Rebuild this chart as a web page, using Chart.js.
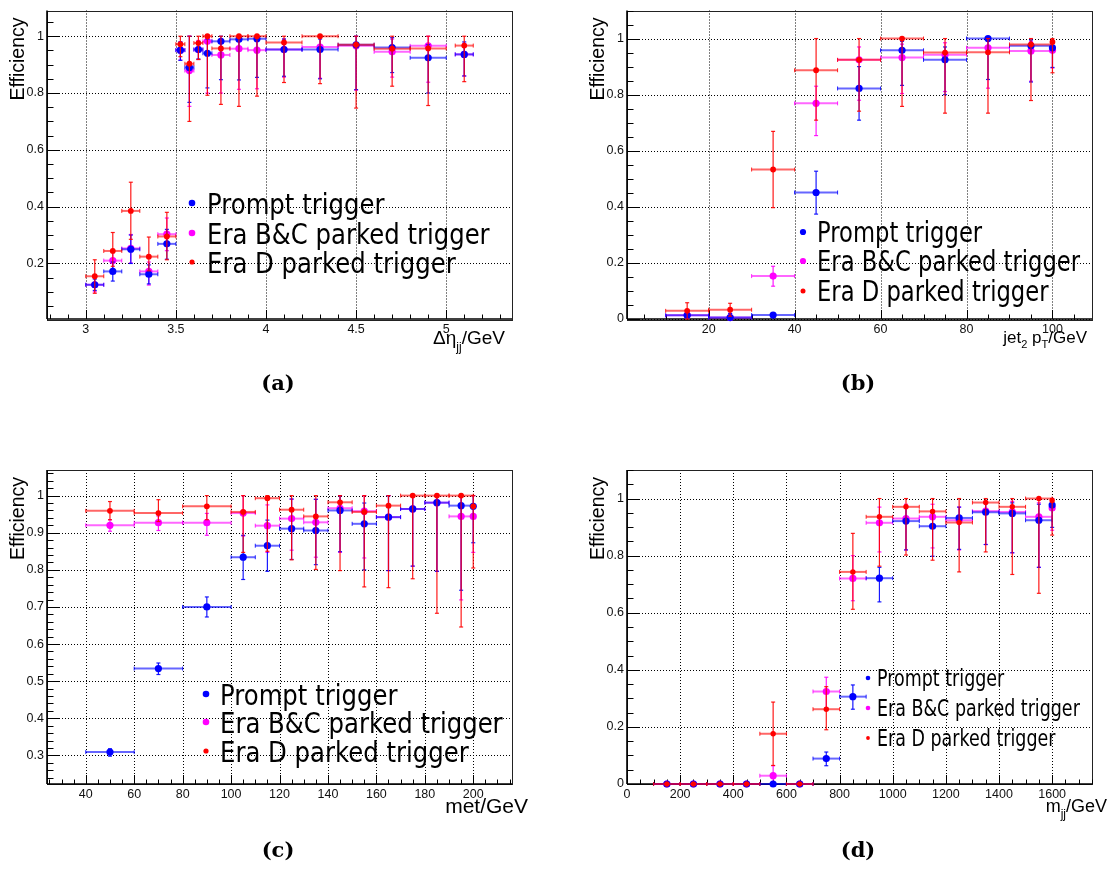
<!DOCTYPE html>
<html><head><meta charset="utf-8">
<script src="https://cdn.jsdelivr.net/npm/chart.js@4.4.1/dist/chart.umd.min.js"></script>
<style>
html,body{margin:0;padding:0;background:#fff;}
#wrap{position:relative;width:1115px;height:871px;overflow:hidden;background:#fff;}
canvas{position:absolute;left:0;top:0;width:1115px;height:871px;}
</style></head><body><div id="wrap">
<canvas id="ca" width="1115" height="871"></canvas>
<canvas id="cb" width="1115" height="871"></canvas>
<canvas id="cc" width="1115" height="871"></canvas>
<canvas id="cd" width="1115" height="871"></canvas>
</div>
<script>
// ---------------- DATA ----------------
const seriesNames = ['Prompt trigger', 'Era B&C parked trigger', 'Era D parked trigger'];

// Panel (a): Delta eta_jj
const aX    = [3.05,3.15,3.25,3.35,3.45,3.525,3.575,3.625,3.675,3.75,3.85,3.95,4.1,4.3,4.5,4.7,4.9,5.1];
const aXErr = [0.05,0.05,0.05,0.05,0.05,0.025,0.025,0.025,0.025,0.05,0.05,0.05,0.1,0.1,0.1,0.1,0.1,0.05];
const aPromptY  = [0.125,0.172,0.250,0.162,0.269,0.951,0.890,0.953,0.940,0.982,0.989,0.991,0.953,0.953,0.970,0.960,0.924,0.936];
const aPromptLo = [0.105,0.138,0.200,0.128,0.215,0.915,0.767,0.920,0.818,0.847,0.846,0.855,0.859,0.850,0.812,0.872,0.800,0.860];
const aPromptHi = [0.145,0.205,0.300,0.195,0.320,0.980,1.000,0.980,0.990,1.000,1.000,1.000,0.990,0.990,1.000,0.995,0.970,0.980];
const aBCY  = [0.125,0.210,0.253,0.172,0.303,0.951,0.879,0.953,0.982,0.934,0.956,0.951,0.953,0.962,0.966,0.945,0.966,0.936];
const aBCLo = [0.100,0.175,0.202,0.124,0.245,0.916,0.753,0.918,0.800,0.800,0.813,0.815,0.856,0.852,0.810,0.856,0.838,0.860];
const aBCHi = [0.150,0.245,0.302,0.205,0.360,0.980,1.000,0.985,1.000,0.975,1.000,1.000,0.990,1.000,1.000,0.990,1.000,0.975];
const aDY  = [0.155,0.244,0.385,0.224,0.295,0.972,0.903,0.976,1.000,0.957,1.000,1.000,0.978,1.000,0.970,0.956,0.957,0.967];
const aDLo = [0.095,0.190,0.285,0.174,0.213,0.928,0.700,0.918,0.792,0.760,0.753,0.789,0.837,0.833,0.747,0.824,0.756,0.840];
const aDHi = [0.213,0.309,0.486,0.293,0.380,1.000,1.000,1.000,1.000,1.000,1.000,1.000,1.000,1.000,1.000,1.000,1.000,1.000];
const aXTicks = [3,3.5,4,4.5,5];
const aYTicks = [0.2,0.4,0.6,0.8,1];

// Panel (b): jet2 pT
const bX    = [15,25,35,45,55,65,75,85,95,100];
const bXErr = [5,5,5,5,5,5,5,5,5,0];
const bPromptY  = [0.013,0.005,0.014,0.451,0.822,0.958,0.924,1.000,0.974,0.967];
const bPromptLo = [0.003,0.000,0.008,0.374,0.709,0.833,0.800,0.854,0.845,0.897];
const bPromptHi = [0.030,0.020,0.022,0.527,0.900,0.990,0.970,1.000,0.995,0.990];
const bBCY  = [0.013,0.005,0.153,0.769,0.924,0.932,0.942,0.967,0.956,0.958];
const bBCLo = [0.003,0.000,0.117,0.654,0.780,0.804,0.811,0.823,0.848,0.895];
const bBCHi = [0.030,0.020,0.188,0.830,0.970,0.980,0.985,1.000,0.990,0.985];
const bDY  = [0.029,0.033,0.533,0.887,0.924,1.000,0.950,0.951,0.979,0.988];
const bDLo = [0.000,0.010,0.397,0.709,0.741,0.758,0.734,0.734,0.779,0.878];
const bDHi = [0.058,0.056,0.669,1.000,1.000,1.000,1.000,1.000,1.000,1.000];
const bXTicks = [20,40,60,80,100];
const bYTicks = [0,0.2,0.4,0.6,0.8,1];

// Panel (c): met
const cX    = [50,70,90,105,115,125,135,145,155,165,175,185,195,200];
const cXErr = [10,10,10,5,5,5,5,5,5,5,5,5,5,0];
const cPromptY  = [0.309,0.534,0.700,0.834,0.865,0.911,0.906,0.960,0.924,0.942,0.964,0.981,0.973,0.971];
const cPromptLo = [0.298,0.518,0.673,0.774,0.796,0.828,0.814,0.849,0.800,0.798,0.810,0.796,0.745,0.873];
const cPromptHi = [0.318,0.549,0.727,0.893,0.934,0.991,0.990,1.000,0.980,1.000,1.000,1.000,1.000,1.000];
const cBCY  = [0.920,0.927,0.927,0.953,0.919,0.938,0.928,0.966,0.958,0.942,0.964,0.981,0.944,0.944];
const cBCLo = [0.904,0.906,0.893,0.891,0.847,0.853,0.834,0.847,0.832,0.798,0.810,0.796,0.719,0.847];
const cBCHi = [0.935,0.945,0.952,1.000,0.975,0.990,0.990,1.000,1.000,1.000,1.000,1.000,1.000,1.000];
const cDY  = [0.959,0.953,0.971,0.956,0.993,0.962,0.944,0.982,0.956,0.973,1.000,1.000,1.000,0.971];
const cDLo = [0.935,0.930,0.935,0.847,0.850,0.827,0.801,0.798,0.754,0.752,0.776,0.683,0.646,0.805];
const cDHi = [0.984,0.989,1.000,1.000,1.000,1.000,1.000,1.000,1.000,1.000,1.000,1.000,1.000,1.000];
const cXTicks = [40,60,80,100,120,140,160,180,200];
const cYTicks = [0.3,0.4,0.5,0.6,0.7,0.8,0.9,1];

// Panel (d): m_jj
const dX    = [150,250,350,450,550,650,750,850,950,1050,1150,1250,1350,1450,1550,1600];
const dXErr = [50,50,50,50,50,50,50,50,50,50,50,50,50,50,50,0];
const dPromptY  = [0,0,0,0,0,0,0.089,0.306,0.721,0.921,0.903,0.932,0.952,0.948,0.924,0.977];
const dPromptLo = [0,0,0,0,0,0,0.064,0.262,0.638,0.820,0.798,0.822,0.839,0.810,0.759,0.899];
const dPromptHi = [0,0,0,0,0,0,0.112,0.347,0.759,0.970,0.950,0.970,0.985,0.985,0.980,1.000];
const dBCY  = [0,0,0,0,0.029,0,0.324,0.720,0.915,0.930,0.936,0.924,0.956,0.953,0.936,0.967];
const dBCLo = [0,0,0,0,0.000,0,0.266,0.642,0.813,0.820,0.827,0.820,0.839,0.810,0.759,0.889];
const dBCHi = [0,0,0,0,0.064,0,0.374,0.800,0.970,0.980,0.980,0.970,0.990,0.990,0.985,1.000];
const dDY  = [0,0,0,0,0.176,0,0.262,0.743,0.936,0.971,0.955,0.916,0.986,0.971,1.000,0.993];
const dDLo = [0,0,0,0,0.065,0,0.190,0.612,0.763,0.802,0.784,0.743,0.813,0.734,0.668,0.872];
const dDHi = [0,0,0,0,0.287,0,0.341,0.878,1.000,1.000,1.000,1.000,1.000,1.000,1.000,1.000];
const dXTicks = [0,200,400,600,800,1000,1200,1400,1600];
const dYTicks = [0,0.2,0.4,0.6,0.8,1];

// ---------------- STYLE ----------------
const seriesRGB = ['0,0,255', '255,0,255', '255,0,0'];
const drawOrder = [1, 2, 0];
Chart.defaults.font.family = "'Liberation Sans', Arial, sans-serif";

function line(ctx, x1, y1, x2, y2) { ctx.beginPath(); ctx.moveTo(x1, y1); ctx.lineTo(x2, y2); ctx.stroke(); }
function stepRange(min, max, step) {
  const out = []; const s = Math.ceil(min / step - 1e-9), e = Math.floor(max / step + 1e-9);
  for (let k = s; k <= e; k++) out.push(k * step);
  return out;
}
function fmt(v) { return String(Math.round(v * 1000) / 1000); }

function drawParts(ctx, parts, xr, base) {
  let total = 0;
  parts.forEach(p => { ctx.font = p.s + "px 'Liberation Sans', Arial, sans-serif"; p.w = ctx.measureText(p.t).width; total += p.w; });
  let x = xr - total;
  ctx.textAlign = 'left'; ctx.textBaseline = 'alphabetic'; ctx.fillStyle = '#000';
  parts.forEach(p => { ctx.font = p.s + "px 'Liberation Sans', Arial, sans-serif"; ctx.fillText(p.t, x, base + (p.dy || 0)); x += p.w; });
}

const panelPlugin = {
  id: 'panel',
  beforeDatasetsDraw(chart) {
    const o = chart.options.plugins.panel; const ctx = chart.ctx; const ca = chart.chartArea;
    const xs = chart.scales.x, ys = chart.scales.y;
    ctx.save();
    // dotted grid
    ctx.strokeStyle = '#000'; ctx.lineWidth = 1; ctx.setLineDash([1, 2]);
    o.xTicks.forEach(v => { const p = Math.round(xs.getPixelForValue(v)) + 0.5; line(ctx, p, ca.top, p, ca.bottom); });
    o.yTicks.forEach(v => { const p = Math.round(ys.getPixelForValue(v)) + 0.5; line(ctx, ca.left, p, ca.right, p); });
    ctx.setLineDash([]);
    // frame
    ctx.strokeStyle = '#222'; ctx.lineWidth = 1;
    ctx.strokeRect(Math.round(ca.left) + 0.5, Math.round(ca.top) + 0.5, Math.round(ca.right - ca.left), Math.round(ca.bottom - ca.top));
    ctx.strokeStyle = '#000'; ctx.lineWidth = 1.6;
    line(ctx, ca.left, ca.top, ca.left, ca.bottom);
    line(ctx, ca.left, ca.bottom, ca.right, ca.bottom);
    // tick marks (inside)
    ctx.lineWidth = 1;
    stepRange(xs.min, xs.max, o.xMinor).forEach(v => {
      const p = Math.round(xs.getPixelForValue(v)) + 0.5;
      const major = o.xTicks.some(t => Math.abs(t - v) < o.xMinor * 0.01);
      line(ctx, p, ca.bottom, p, ca.bottom - (major ? 9 : 4.5));
    });
    stepRange(ys.min, ys.max, o.yMinor).forEach(v => {
      const p = Math.round(ys.getPixelForValue(v)) + 0.5;
      const major = o.yTicks.some(t => Math.abs(t - v) < o.yMinor * 0.01);
      line(ctx, ca.left, p, ca.left + (major ? 13 : 6.5), p);
    });
    ctx.restore();
  },
  beforeDatasetDraw(chart, args) {
    const ds = chart.data.datasets[args.index];
    const ctx = chart.ctx, xs = chart.scales.x, ys = chart.scales.y;
    const rgb = seriesRGB[ds.colorIdx];
    ctx.save();
    ds.data.forEach((p, i) => {
      const px = xs.getPixelForValue(p.x), py = ys.getPixelForValue(p.y);
      const xe = ds.errX[i];
      if (xe > 0) {
        const l = xs.getPixelForValue(p.x - xe), r = xs.getPixelForValue(p.x + xe);
        ctx.strokeStyle = 'rgba(' + rgb + ',0.6)'; ctx.lineWidth = 2;
        line(ctx, l, py, r, py);
        ctx.strokeStyle = 'rgba(' + rgb + ',0.85)'; ctx.lineWidth = 1;
        line(ctx, l, py - 2, l, py + 2); line(ctx, r, py - 2, r, py + 2);
      }
      const plo = ys.getPixelForValue(ds.errLo[i]), phi = ys.getPixelForValue(ds.errHi[i]);
      ctx.strokeStyle = 'rgba(' + rgb + ',0.9)'; ctx.lineWidth = 1.2;
      if (plo - phi > 0.5) line(ctx, px, plo, px, phi);
      if (plo - py > 0.5) line(ctx, px - 2, plo, px + 2, plo);
      if (py - phi > 0.5) line(ctx, px - 2, phi, px + 2, phi);
    });
    ctx.restore();
  },
  afterDraw(chart) {
    const o = chart.options.plugins.panel; const ctx = chart.ctx; const ca = chart.chartArea;
    ctx.save();
    // y title
    ctx.save();
    ctx.translate(ca.left - 23.5, ca.top + 7);
    ctx.rotate(-Math.PI / 2);
    ctx.font = "19.5px 'Liberation Sans', Arial, sans-serif";
    ctx.fillStyle = '#000'; ctx.textAlign = 'right'; ctx.textBaseline = 'alphabetic';
    ctx.fillText('Efficiency', 0, 0);
    ctx.restore();
    // x title
    drawParts(ctx, o.xTitle, o.xTitleRight, o.xTitleBase);
    // legend
    const L = o.legend;
    for (let k = 0; k < 3; k++) {
      ctx.fillStyle = 'rgb(' + seriesRGB[k] + ')';
      ctx.beginPath(); ctx.arc(L.mx, L.rows[k], L.r[k], 0, Math.PI * 2); ctx.fill();
      ctx.save();
      ctx.translate(L.tx, L.rows[k] + 0.729 * L.size / 2);
      ctx.scale(L.hs, 1);
      ctx.font = L.size + "px 'DejaVu Sans', sans-serif";
      ctx.fillStyle = '#000'; ctx.textAlign = 'left'; ctx.textBaseline = 'alphabetic';
      ctx.fillText(seriesNames[k], 0, 0);
      ctx.restore();
    }
    // caption
    ctx.font = "bold 21px 'DejaVu Serif', serif";
    ctx.fillStyle = '#000'; ctx.textAlign = 'center'; ctx.textBaseline = 'alphabetic';
    ctx.fillText(o.caption, o.capX, o.capY);
    ctx.restore();
  }
};

function series(x, y, lo, hi, xe, k, r) {
  return {
    label: seriesNames[k],
    data: x.map((xv, i) => ({ x: xv, y: y[i] })),
    errLo: lo, errHi: hi, errX: xe, colorIdx: k,
    pointRadius: r, pointHoverRadius: r, pointBorderWidth: 0,
    pointBackgroundColor: 'rgb(' + seriesRGB[k] + ')', borderColor: 'rgb(' + seriesRGB[k] + ')',
    showLine: false, clip: false, order: drawOrder[k]
  };
}

function makePanel(id, p) {
  const W = 1115, H = 871, YW = 47, XH = 40;
  new Chart(document.getElementById(id), {
    type: 'scatter',
    data: { datasets: [
      series(p.x, p.pY, p.pLo, p.pHi, p.xe, 0, p.rad[0]),
      series(p.x, p.bY, p.bLo, p.bHi, p.xe, 1, p.rad[1]),
      series(p.x, p.dY, p.dLo, p.dHi, p.xe, 2, p.rad[2])
    ] },
    options: {
      responsive: false, animation: false, devicePixelRatio: 1, events: [],
      layout: { padding: { left: p.rect[0] - YW, top: p.rect[1], right: W - p.rect[2], bottom: H - p.rect[3] - XH } },
      plugins: {
        legend: { display: false }, tooltip: { enabled: false }, title: { display: false },
        panel: p.panel
      },
      scales: {
        x: {
          type: 'linear', min: p.xr[0], max: p.xr[1],
          afterBuildTicks: s => { s.ticks = p.panel.xTicks.map(v => ({ value: v })); },
          afterFit: s => { s.height = XH; },
          grid: { display: false, drawTicks: false }, border: { display: false },
          ticks: { padding: 3, maxRotation: 0, autoSkip: false, color: '#111', font: { size: 12.5 }, callback: v => fmt(v) }
        },
        y: {
          type: 'linear', min: p.yr[0], max: p.yr[1],
          afterBuildTicks: s => { s.ticks = p.panel.yTicks.map(v => ({ value: v })); },
          afterFit: s => { s.width = YW; },
          grid: { display: false, drawTicks: false }, border: { display: false },
          ticks: { padding: 3, autoSkip: false, color: '#111', font: { size: 12.5 }, callback: v => fmt(v) }
        }
      }
    },
    plugins: [panelPlugin]
  });
}

makePanel('ca', {
  rect: [47, 5, 512, 319], xr: [2.785, 5.365], yr: [0.0045, 1.0905],
  x: aX, xe: aXErr, pY: aPromptY, pLo: aPromptLo, pHi: aPromptHi, bY: aBCY, bLo: aBCLo, bHi: aBCHi, dY: aDY, dLo: aDLo, dHi: aDHi,
  rad: [3.6, 3.6, 2.9],
  panel: {
    xTicks: aXTicks, yTicks: aYTicks, xMinor: 0.1, yMinor: 0.05,
    xTitle: [{ t: '\u0394\u03B7', s: 19 }, { t: 'jj', s: 12, dy: 7 }, { t: '/GeV', s: 19 }], xTitleRight: 505, xTitleBase: 344,
    legend: { mx: 192, tx: 207, rows: [203, 233, 262], r: [3.3, 3.3, 2.6], size: 29, hs: 0.84 },
    caption: '(a)', capX: 278, capY: 390
  }
});
makePanel('cb', {
  rect: [627, 5, 1092, 319], xr: [1, 109.2], yr: [0, 1.1],
  x: bX, xe: bXErr, pY: bPromptY, pLo: bPromptLo, pHi: bPromptHi, bY: bBCY, bLo: bBCLo, bHi: bBCHi, dY: bDY, dLo: bDLo, dHi: bDHi,
  rad: [3.6, 3.6, 2.9],
  panel: {
    xTicks: bXTicks, yTicks: bYTicks, xMinor: 5, yMinor: 0.05,
    xTitle: [{ t: 'jet', s: 17 }, { t: '2', s: 11, dy: 5 }, { t: ' p', s: 17 }, { t: 'T', s: 11, dy: 5 }, { t: '/GeV', s: 17 }], xTitleRight: 1087, xTitleBase: 343,
    legend: { mx: 803, tx: 817, rows: [232, 261, 291], r: [3.1, 3.1, 2.5], size: 28, hs: 0.81 },
    caption: '(b)', capX: 858, capY: 390
  }
});
makePanel('cc', {
  rect: [47, 470, 512, 784], xr: [24, 216], yr: [0.223, 1.069],
  x: cX, xe: cXErr, pY: cPromptY, pLo: cPromptLo, pHi: cPromptHi, bY: cBCY, bLo: cBCLo, bHi: cBCHi, dY: cDY, dLo: cDLo, dHi: cDHi,
  rad: [3.6, 3.6, 2.9],
  panel: {
    xTicks: cXTicks, yTicks: cYTicks, xMinor: 5, yMinor: 0.02,
    xTitle: [{ t: 'met/GeV', s: 21 }], xTitleRight: 528, xTitleBase: 813,
    legend: { mx: 206, tx: 220, rows: [694, 722, 751], r: [3.3, 3.3, 2.6], size: 29, hs: 0.84 },
    caption: '(c)', capX: 278, capY: 857
  }
});
makePanel('cd', {
  rect: [627, 470, 1092, 784], xr: [0, 1750], yr: [0, 1.1],
  x: dX, xe: dXErr, pY: dPromptY, pLo: dPromptLo, pHi: dPromptHi, bY: dBCY, bLo: dBCLo, bHi: dBCHi, dY: dDY, dLo: dDLo, dHi: dDHi,
  rad: [3.6, 3.6, 2.7],
  panel: {
    xTicks: dXTicks, yTicks: dYTicks, xMinor: 50, yMinor: 0.05,
    xTitle: [{ t: 'm', s: 18 }, { t: 'jj', s: 12, dy: 6 }, { t: '/GeV', s: 18 }], xTitleRight: 1107, xTitleBase: 812,
    legend: { mx: 868, tx: 877, rows: [678, 708, 738], r: [2.3, 2.3, 1.9], size: 23, hs: 0.76 },
    caption: '(d)', capX: 858, capY: 857
  }
});
</script>
</body></html>
